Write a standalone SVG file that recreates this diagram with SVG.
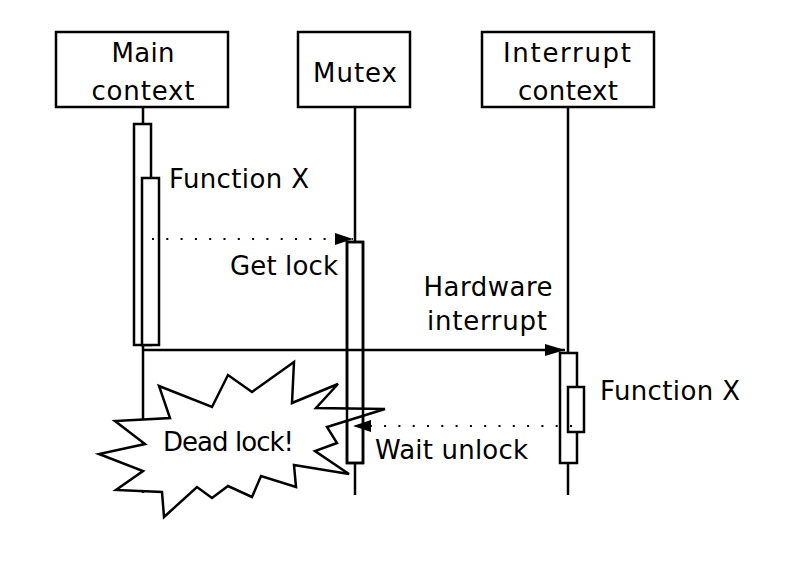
<svg xmlns="http://www.w3.org/2000/svg" width="800" height="566" viewBox="0 0 800 566">
<style>
  text { font-family: "DejaVu Sans", "Liberation Sans", sans-serif; font-size: 26px; fill: #000; }
  .box { fill: #fff; stroke: #000; stroke-width: 2.5; }
  .life { stroke: #000; stroke-width: 2.5; fill: none; }
  .act { fill: #fff; stroke: #000; stroke-width: 2.5; }
  .solid { stroke: #000; stroke-width: 2.5; fill: none; }
  .dot { stroke: #000; stroke-width: 2.2; fill: none; stroke-dasharray: 2 12.3; }
</style>
<defs>
  <marker id="ah" viewBox="0 0 20 12" refX="20" refY="6" markerWidth="20" markerHeight="12" markerUnits="userSpaceOnUse" orient="auto">
    <path d="M0,0 L20,6 L0,12 z" fill="#000"/>
  </marker>
  <marker id="ahs" viewBox="0 0 18 12" refX="18" refY="6" markerWidth="18" markerHeight="12" markerUnits="userSpaceOnUse" orient="auto">
    <path d="M0,0 L18,6 L0,12 z" fill="#000"/>
  </marker>
</defs>
<rect width="800" height="566" fill="#fff"/>

<g id="main-context">
  <line class="life" x1="143" y1="107" x2="143" y2="493"/>
  <rect class="box" x="56" y="32" width="172" height="75"/>
  <text x="143" y="62" text-anchor="middle" textLength="63" lengthAdjust="spacing">Main</text>
  <text x="143" y="100" text-anchor="middle" textLength="103" lengthAdjust="spacing">context</text>
  <rect class="act" x="134" y="124" width="17" height="221"/>
  <rect class="act" x="142" y="178" width="17" height="167"/>
  <text x="169" y="188" textLength="140" lengthAdjust="spacing">Function X</text>
</g>

<g id="mutex">
  <line class="life" x1="355" y1="107" x2="355" y2="495"/>
  <rect class="box" x="298" y="32" width="112" height="75"/>
  <text x="355" y="82" text-anchor="middle" textLength="84" lengthAdjust="spacing">Mutex</text>
  <rect class="act" x="347" y="242" width="16" height="221"/>
</g>

<g id="interrupt-context">
  <line class="life" x1="568" y1="107" x2="568" y2="495"/>
  <rect class="box" x="482" y="32" width="172" height="75"/>
  <text x="567" y="62" text-anchor="middle" textLength="128" lengthAdjust="spacing">Interrupt</text>
  <text x="568" y="100" text-anchor="middle" textLength="100" lengthAdjust="spacing">context</text>
  <rect class="act" x="560" y="353" width="17" height="110"/>
  <rect class="act" x="568" y="387" width="16" height="45"/>
  <text x="600" y="400" textLength="140" lengthAdjust="spacing">Function X</text>
</g>

<g id="dead-lock">
  <polygon fill="#fff" stroke="#000" stroke-width="2.5" stroke-linejoin="miter" points="159,386 212,407 228,375 252,392 294,362 292,403 338,384 316,408 385,409 327,427 337,443 315,451 349,474 294,465 296,487 261,476 252,497 228,486 212,498 197,487 164,517 162,492 116,490 143,471 99,454 145,444 115,421 170,418"/>
  <rect x="347" y="242" width="16" height="221" fill="none" stroke="#000" stroke-width="2.5"/>
  <text x="163" y="451" textLength="131" lengthAdjust="spacing">Dead lock!</text>
</g>

<g id="connectors">
  <line class="dot" x1="152" y1="239" x2="353" y2="239" marker-end="url(#ahs)"/>
  <text x="338" y="275" text-anchor="end" textLength="108" lengthAdjust="spacing">Get lock</text>
  <line class="solid" x1="143" y1="350" x2="565" y2="350" marker-end="url(#ah)"/>
  <text x="488" y="296" text-anchor="middle" textLength="129" lengthAdjust="spacing">Hardware</text>
  <text x="487" y="330" text-anchor="middle" textLength="120" lengthAdjust="spacing">interrupt</text>
  <line class="dot" x1="572" y1="426" x2="353" y2="426" marker-end="url(#ahs)"/>
  <text x="375" y="459" textLength="153" lengthAdjust="spacing">Wait unlock</text>
</g>
</svg>
